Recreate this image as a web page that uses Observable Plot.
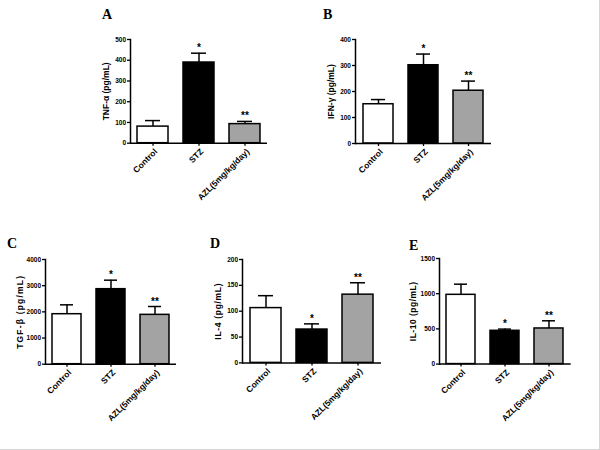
<!DOCTYPE html>
<html><head><meta charset="utf-8">
<script src="https://cdn.jsdelivr.net/npm/d3@7"></script>
<script src="https://cdn.jsdelivr.net/npm/@observablehq/plot@0.6"></script>
<style>
html,body{margin:0;padding:0;background:#fff;}
#wrap{position:relative;width:600px;height:450px;box-sizing:border-box;border-right:1px solid #d6d6d6;border-bottom:1px solid #d6d6d6;overflow:hidden;font-family:"Liberation Sans",Arial,sans-serif;}
.panel{position:absolute;}
.letter{position:absolute;font-family:"Liberation Serif","Times New Roman",serif;font-weight:bold;font-size:14px;line-height:1;}
</style></head><body><div id="wrap"></div>
<script>
// ---- data ----
const groups = ["Control", "STZ", "AZL(5mg/kg/day)"];
const groupFills = ["#ffffff", "#000000", "#a3a3a3"];
const signif = ["", "*", "**"];
const panelLetters = ["A", "B", "C", "D", "E"];
const yLabels = ["TNF-α (pg/mL)", "IFN-γ (pg/mL)", "TGF-β (pg/mL)", "IL-4 (pg/mL)", "IL-10 (pg/mL)"];
const tnfMean = [80, 389, 92];     const tnfErr = [109, 434, 105];
const ifnMean = [151, 301, 203];   const ifnErr = [169, 344, 240];
const tgfMean = [1910, 2866, 1885]; const tgfErr = [2268, 3210, 2204];
const il4Mean = [106, 64.5, 132];  const il4Err = [130, 75.5, 155];
const il10Mean = [984, 473, 506];  const il10Err = [1135, 497, 615];
const yMax = [500, 400, 4000, 200, 1500];
const yStep = [100, 100, 1000, 50, 500];
const means = [tnfMean, ifnMean, tgfMean, il4Mean, il10Mean];
const errs = [tnfErr, ifnErr, tgfErr, il4Err, il10Err];

// ---- layout ----
const mL = 40, mT = 30, mR = 6, mB = 72;
const layout = [
  {left: 90,    top: 9,     w: 137,   h: 103.7, lx: 102, ly: 7.5,   ls: 0,   dx: -24},
  {left: 315,   top: 9.3,   w: 136,   h: 104,   lx: 323, ly: 7.5,   ls: 0,   dx: -24},
  {left: 5,     top: 229.3, w: 131,   h: 104.7, lx: 7,   ly: 236.5, ls: 1.2, dx: -25},
  {left: 201.7, top: 229.3, w: 139,   h: 103.4, lx: 210, ly: 236.5, ls: 0.7, dx: -24},
  {left: 399.3, top: 227.7, w: 131.7, h: 105.6, lx: 409, ly: 238.5, ls: 0.5, dx: -26}
];

const wrap = document.getElementById("wrap");
panelLetters.forEach((letter, i) => {
  const L = layout[i];
  const rows = groups.map((g, j) => ({g, v: means[i][j], e: errs[i][j], f: groupFills[j], s: signif[j]}));
  const chart = Plot.plot({
    width: mL + L.w + mR,
    height: mT + L.h + mB,
    marginLeft: mL, marginRight: mR, marginTop: mT, marginBottom: mB,
    style: {fontFamily: "'Liberation Sans', Arial, sans-serif", background: "transparent", overflow: "visible"},
    x: {domain: groups, paddingInner: 0.33, paddingOuter: 0.15, label: null},
    y: {domain: [0, yMax[i]], label: null},
    color: {type: "identity"},
    marks: [
      Plot.barY(rows, {x: "g", y: "v", fill: "f", stroke: "black", strokeWidth: 1.5}),
      Plot.ruleX(rows, {x: "g", y1: "v", y2: "e", stroke: "black", strokeWidth: 1.5}),
      Plot.tickY(rows, {x: "g", y: "e", stroke: "black", strokeWidth: 1.5, insetLeft: 8, insetRight: 8}),
      Plot.text(rows, {x: "g", y: "e", text: "s", dy: -2, lineAnchor: "bottom", fontSize: 10, fontWeight: "bold"}),
      Plot.ruleY([0], {stroke: "black", strokeWidth: 1.5}),
      Plot.frame({anchor: "left", stroke: "black", strokeWidth: 1.5}),
      Plot.axisY({ticks: d3.range(0, yMax[i] + yStep[i] / 2, yStep[i]), tickFormat: d3.format("d"), tickSize: 3, tickPadding: 1.5, fontSize: 6.5, fontWeight: "bold", strokeWidth: 1.3, label: null}),
      Plot.axisX({tickSize: 3, tickFormat: () => "", strokeWidth: 1.3, label: null}),
      Plot.axisX({tickSize: 0, tickPadding: 7, tickRotate: -45, dx: 3, fontSize: 8.5, fontWeight: "bold", label: null}),
      Plot.text([yLabels[i]], {frameAnchor: "left", rotate: -90, dx: L.dx, textAnchor: "middle", lineAnchor: "middle", fontSize: 8.5, fontWeight: "bold"})
    ]
  });
  chart.classList.add("panel");
  chart.style.left = L.left + "px";
  chart.style.top = L.top + "px";
  d3.select(chart).selectAll("text").filter(function () { return this.textContent === yLabels[i]; })
    .style("letter-spacing", L.ls + "px");
  wrap.appendChild(chart);
  const d = document.createElement("div");
  d.className = "letter";
  d.textContent = letter;
  d.style.left = L.lx + "px";
  d.style.top = L.ly + "px";
  wrap.appendChild(d);
});
</script></body></html>
